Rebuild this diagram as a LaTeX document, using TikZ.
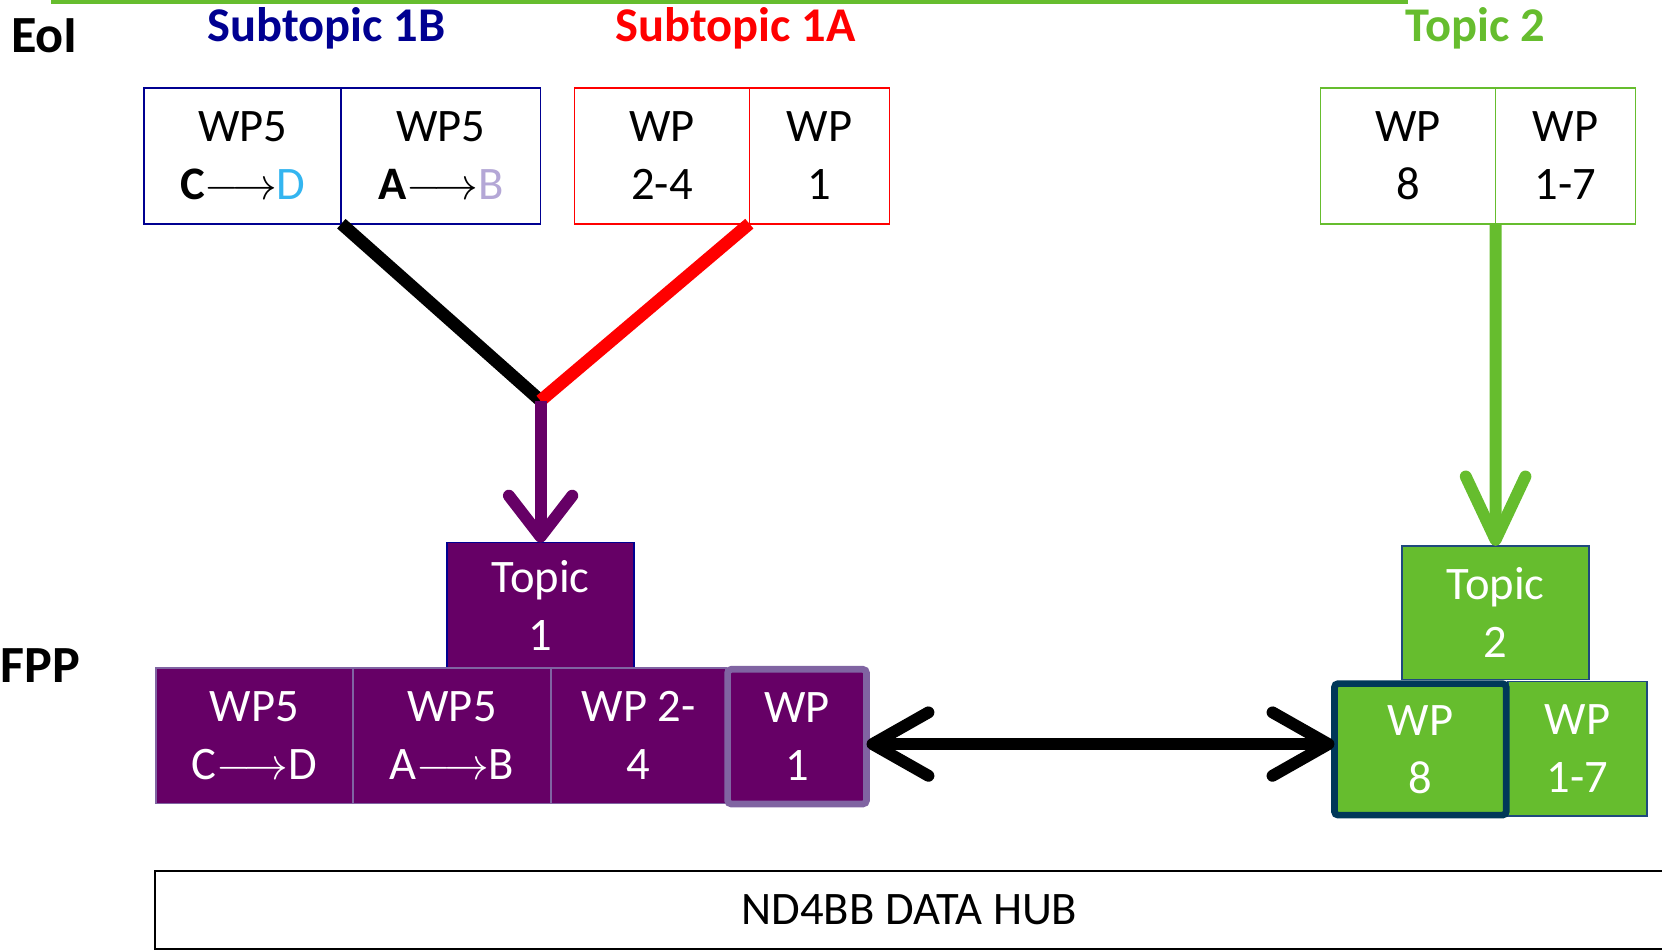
\documentclass[tikz,border=0pt]{standalone}
\usepackage{fontspec}
\setmainfont{Carlito}
\usetikzlibrary{calc}
\usetikzlibrary{arrows.meta}

\definecolor{navyblue}{RGB}{0,0,145}
\definecolor{wpgreen}{RGB}{102,189,46}
\definecolor{wppurple}{RGB}{102,0,102}
\definecolor{lilac}{RGB}{128,100,162}
\definecolor{skyblue}{RGB}{51,181,240}
\definecolor{lavender}{RGB}{180,167,214}
\definecolor{deepnavy}{RGB}{0,56,89}
\definecolor{steelnavy}{RGB}{31,73,125}

\begin{document}
\begin{tikzpicture}[x=0.01cm, y=-0.01cm,
  lvl/.style={font=\fontsize{14}{16}\selectfont\bfseries},
  title/.style={font=\fontsize{13}{15}\selectfont\bfseries},
  wp/.style={draw, rectangle, inner sep=0, outer sep=0, align=center, line width=0.45pt, font=\fontsize{12.5}{15.6}\selectfont},
  eoibox/.style={wp, fill=white, text=black, minimum height=1.28cm},
  fppbox/.style={wp, fill=wppurple, draw=lilac, text=white},
  greenbox/.style={wp, fill=wpgreen, draw=steelnavy, text=white},
  barb/.style={line width=3.2pt, -{Straight Barb[length=11pt,width=17pt,round]}}
]
\useasboundingbox (0,0) rectangle (1568,897);

% top rule
\coordinate (ruleA) at (48,1);
\coordinate (ruleB) at (1328,1);
\draw[wpgreen, line width=1.6pt] (ruleA) -- (ruleB);

% EoI level
\node[lvl] (eoi) at (42,34) {EoI};
\node[title, text=navyblue] (sub1b) at (308,27) {Subtopic 1B};
\node[title, text=red] (sub1a) at (694,27) {Subtopic 1A};
\node[title, text=wpgreen] (topic2) at (1392,27) {Topic 2};

\node[eoibox, draw=navyblue, minimum width=1.86cm] (cd) at (229,147) {WP5\\\textbf{C}$\longrightarrow$\textcolor{skyblue}{D}};
\node[eoibox, draw=navyblue, minimum width=1.88cm] (ab) at (416,147) {WP5\\\textbf{A}$\longrightarrow$\textcolor{lavender}{B}};
\node[eoibox, draw=red, minimum width=1.65cm] (wp24) at (624.5,147) {WP\\2-4};
\node[eoibox, draw=red, minimum width=1.32cm] (wp1) at (773,147) {WP\\1};
\node[eoibox, draw=wpgreen, minimum width=1.65cm] (wp8) at (1328.5,147) {WP\\8};
\node[eoibox, draw=wpgreen, minimum width=1.32cm] (wp17) at (1477,147) {WP\\1-7};

% FPP level
\node[lvl] (fpp) at (38,628) {FPP};
\node[fppbox, draw=navyblue, minimum width=1.76cm, minimum height=1.18cm] (tone) at (510,571) {Topic\\1};
\node[fppbox, minimum width=1.86cm, minimum height=1.28cm] (fcd) at (240,694) {WP5\\C$\longrightarrow$D};
\node[fppbox, minimum width=1.87cm, minimum height=1.28cm] (fab) at (426.5,694) {WP5\\A$\longrightarrow$B};
\node[fppbox, minimum width=1.65cm, minimum height=1.28cm] (f24) at (602.5,694) {WP 2-\\4};
\node[fppbox, line width=1.8pt, rounded corners=1pt, minimum width=1.31cm, minimum height=1.27cm] (f1) at (752,695) {WP\\1};

\node[greenbox, minimum width=1.76cm, minimum height=1.26cm] (ttwo) at (1411,578) {Topic\\2};
\node[greenbox, minimum width=1.31cm, minimum height=1.27cm] (f17) at (1488.5,706.5) {WP\\1-7};
\node[greenbox, draw=deepnavy, line width=1.8pt, rounded corners=1pt, minimum width=1.62cm, minimum height=1.24cm] (f8) at (1340,707) {WP\\8};

\node[draw, line width=0.6pt, minimum width=14.22cm, minimum height=0.73cm, font=\fontsize{12.5}{15}\selectfont] (hub) at (858,858.5) {ND4BB DATA HUB};

% connectors
\coordinate (join) at (510,378);
\draw[black, line width=3.4pt] (cd.south east) -- (join);
\draw[red, line width=3.4pt] (wp1.south west) -- (join);
\draw[barb, wppurple] (join) -- (tone.north);
\draw[barb, wpgreen, -{Straight Barb[length=17pt,width=16pt,round]}] (wp8.south east) -- (ttwo.north);

\coordinate (mid) at (1037,702);
\draw[barb, black, {Straight Barb[length=15pt,width=17pt,round]}-{Straight Barb[length=15pt,width=17pt,round]}] (f1.east |- mid) -- (f8.west |- mid);
\end{tikzpicture}
\end{document}
